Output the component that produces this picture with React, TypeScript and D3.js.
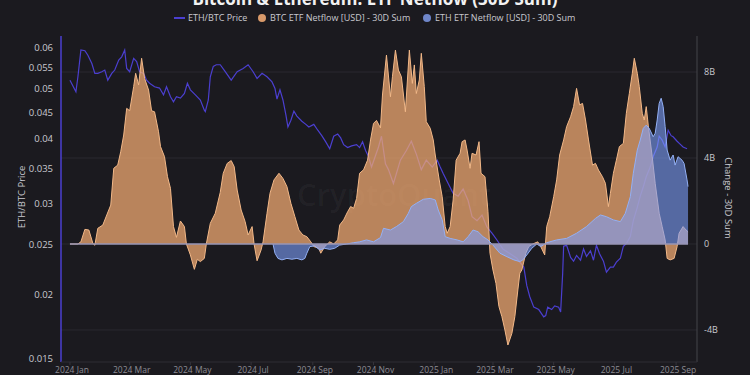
import { useEffect, useRef } from "react";
import * as d3 from "d3";

// 30D sum of BTC spot ETF netflow, billions USD
const btcFlow: [string, number][] = [
  ["2024-01-01", 0], ["2024-01-09", 0], ["2024-01-12", 0.1], ["2024-01-16", 0.68], ["2024-01-20", 0.65],
  ["2024-01-24", 0.03], ["2024-01-26", -0.06], ["2024-01-29", 0.73], ["2024-02-03", 0.88], ["2024-02-07", 1.35],
  ["2024-02-11", 1.81], ["2024-02-14", 3.52], ["2024-02-18", 3.67], ["2024-02-21", 4.29], ["2024-02-24", 5.07],
  ["2024-02-27", 6.31], ["2024-03-01", 6.2], ["2024-03-05", 7.32], ["2024-03-07", 7.94], ["2024-03-10", 7.4],
  ["2024-03-13", 8.64], ["2024-03-16", 7.7], ["2024-03-20", 7.16], ["2024-03-23", 6.2], ["2024-03-26", 6.15],
  ["2024-03-30", 5.22], ["2024-04-01", 4.53], ["2024-04-05", 4.06], ["2024-04-08", 3.13], ["2024-04-11", 2.59],
  ["2024-04-14", 0.81], ["2024-04-17", 0.31], ["2024-04-21", 1.07], ["2024-04-25", 0.81], ["2024-04-27", 0],
  ["2024-05-01", -0.51], ["2024-05-05", -1.18], ["2024-05-08", -0.71], ["2024-05-11", -0.82], ["2024-05-15", -0.67],
  ["2024-05-17", 0], ["2024-05-21", 0.96], ["2024-05-26", 1.43], ["2024-05-31", 2.4], ["2024-06-03", 3.29],
  ["2024-06-07", 3.75], ["2024-06-11", 3.88], ["2024-06-14", 3.6], ["2024-06-17", 2.51], ["2024-06-21", 1.58],
  ["2024-06-25", 1.04], ["2024-06-28", 0.42], ["2024-07-02", 0.81], ["2024-07-04", 0], ["2024-07-07", -0.78],
  ["2024-07-11", -0.28], ["2024-07-13", 0.1], ["2024-07-17", 1.43], ["2024-07-20", 2.36], ["2024-07-24", 2.98],
  ["2024-07-29", 3.29], ["2024-08-02", 3.05], ["2024-08-06", 2.67], ["2024-08-10", 1.89], ["2024-08-14", 1.27],
  ["2024-08-18", 0.65], ["2024-08-22", 0.42], ["2024-08-26", 0.34], ["2024-08-30", 0.1], ["2024-09-02", -0.12],
  ["2024-09-07", -0.2], ["2024-09-09", -0.43], ["2024-09-13", -0.12], ["2024-09-18", 0.1], ["2024-09-22", 0],
  ["2024-09-26", 0.19], ["2024-09-28", 0.88], ["2024-10-02", 1.12], ["2024-10-06", 1.5], ["2024-10-09", 1.74],
  ["2024-10-12", 1.66], ["2024-10-15", 2.12], ["2024-10-18", 3.29], ["2024-10-22", 3.45], ["2024-10-26", 3.9],
  ["2024-10-29", 4.84], ["2024-11-01", 5.61], ["2024-11-04", 5.75], ["2024-11-08", 5.4], ["2024-11-10", 6.93],
  ["2024-11-14", 8.79], ["2024-11-18", 6.85], ["2024-11-20", 7.78], ["2024-11-23", 9.02], ["2024-11-26", 8.09],
  ["2024-11-29", 7.78], ["2024-12-03", 6.15], ["2024-12-07", 9.02], ["2024-12-10", 7.47], ["2024-12-12", 8.33],
  ["2024-12-14", 7.0], ["2024-12-17", 7.63], ["2024-12-19", 8.87], ["2024-12-22", 7.32], ["2024-12-24", 5.69],
  ["2024-12-28", 5.38], ["2024-12-31", 4.84], ["2025-01-02", 4.14], ["2025-01-06", 2.98], ["2025-01-09", 2.2],
  ["2025-01-12", 0.81], ["2025-01-14", 0.5], ["2025-01-17", 0.81], ["2025-01-20", 2.05], ["2025-01-23", 3.9],
  ["2025-01-27", 4.22], ["2025-01-29", 4.76], ["2025-02-01", 4.84], ["2025-02-03", 4.37], ["2025-02-06", 3.52],
  ["2025-02-08", 4.22], ["2025-02-12", 4.14], ["2025-02-15", 4.76], ["2025-02-17", 3.29], ["2025-02-21", 3.13],
  ["2025-02-24", 1.5], ["2025-02-26", -0.43], ["2025-03-01", -1.21], ["2025-03-04", -1.83], ["2025-03-07", -2.91],
  ["2025-03-10", -3.38], ["2025-03-13", -4.0], ["2025-03-16", -4.7], ["2025-03-20", -4.16], ["2025-03-23", -3.38],
  ["2025-03-26", -2.14], ["2025-03-28", -1.36], ["2025-03-30", -1.21], ["2025-04-03", -0.43], ["2025-04-06", -0.12],
  ["2025-04-10", 0], ["2025-04-15", 0.1], ["2025-04-18", -0.12], ["2025-04-22", -0.51], ["2025-04-24", 0.81],
  ["2025-04-27", 1.27], ["2025-05-01", 2.2], ["2025-05-04", 2.98], ["2025-05-07", 4.14], ["2025-05-11", 4.84],
  ["2025-05-14", 5.46], ["2025-05-18", 5.92], ["2025-05-21", 6.39], ["2025-05-24", 7.24], ["2025-05-27", 6.47],
  ["2025-05-30", 6.54], ["2025-06-02", 5.77], ["2025-06-05", 4.84], ["2025-06-09", 3.67], ["2025-06-12", 3.75],
  ["2025-06-15", 3.44], ["2025-06-19", 3.13], ["2025-06-22", 2.82], ["2025-06-25", 1.74], ["2025-06-27", 2.36],
  ["2025-06-30", 3.29], ["2025-07-03", 3.9], ["2025-07-06", 4.53], ["2025-07-10", 4.68], ["2025-07-13", 6.08],
  ["2025-07-16", 7.0], ["2025-07-19", 7.94], ["2025-07-21", 8.64], ["2025-07-24", 7.94], ["2025-07-26", 7.32],
  ["2025-07-29", 6.08], ["2025-07-31", 5.77], ["2025-08-02", 6.39], ["2025-08-04", 5.53], ["2025-08-08", 4.06],
  ["2025-08-11", 2.82], ["2025-08-15", 1.43], ["2025-08-18", 0.81], ["2025-08-21", 0.19], ["2025-08-23", -0.67],
  ["2025-08-26", -0.74], ["2025-08-30", -0.67], ["2025-09-02", -0.12], ["2025-09-04", 0.5], ["2025-09-08", 0.81],
  ["2025-09-11", 0.65], ["2025-09-13", 0.57],
];

// 30D sum of ETH spot ETF netflow, billions USD
const ethFlow: [string, number][] = [
  ["2024-07-23", 0], ["2024-07-25", -0.43], ["2024-07-28", -0.67], ["2024-08-01", -0.74], ["2024-08-06", -0.67],
  ["2024-08-11", -0.71], ["2024-08-16", -0.67], ["2024-08-21", -0.74], ["2024-08-24", -0.67], ["2024-08-26", -0.43],
  ["2024-08-29", -0.12], ["2024-09-03", -0.09], ["2024-09-08", -0.28], ["2024-09-13", -0.2], ["2024-09-18", -0.25],
  ["2024-09-23", -0.2], ["2024-09-28", -0.05], ["2024-10-05", 0], ["2024-10-12", 0.06], ["2024-10-18", 0.1],
  ["2024-10-25", 0.19], ["2024-11-01", 0.1], ["2024-11-08", 0.3], ["2024-11-11", 0.73], ["2024-11-18", 0.65],
  ["2024-11-24", 0.81], ["2024-12-01", 1.04], ["2024-12-06", 1.43], ["2024-12-09", 1.74], ["2024-12-14", 1.89],
  ["2024-12-21", 2.08], ["2024-12-28", 2.12], ["2025-01-02", 2.05], ["2025-01-05", 1.58], ["2025-01-09", 1.12],
  ["2025-01-12", 0.34], ["2025-01-17", 0.26], ["2025-01-24", 0.19], ["2025-01-30", 0.1], ["2025-02-04", 0.34],
  ["2025-02-09", 0.65], ["2025-02-14", 0.57], ["2025-02-19", 0.34], ["2025-02-24", 0.19], ["2025-03-01", -0.05],
  ["2025-03-08", -0.43], ["2025-03-15", -0.59], ["2025-03-22", -0.74], ["2025-03-28", -0.82], ["2025-03-31", -0.74],
  ["2025-04-04", -0.51], ["2025-04-09", -0.2], ["2025-04-14", 0], ["2025-04-18", -0.12], ["2025-04-24", 0.06],
  ["2025-05-04", 0.19], ["2025-05-14", 0.26], ["2025-05-24", 0.5], ["2025-06-03", 0.81], ["2025-06-12", 1.19],
  ["2025-06-17", 1.35], ["2025-06-23", 1.27], ["2025-06-30", 1.12], ["2025-07-07", 1.04], ["2025-07-12", 1.43],
  ["2025-07-17", 2.2], ["2025-07-20", 3.29], ["2025-07-24", 4.37], ["2025-07-27", 4.84], ["2025-07-30", 5.38],
  ["2025-08-02", 5.53], ["2025-08-05", 5.38], ["2025-08-09", 4.99], ["2025-08-11", 5.15], ["2025-08-13", 5.77],
  ["2025-08-15", 6.54], ["2025-08-17", 6.78], ["2025-08-19", 6.39], ["2025-08-21", 5.46], ["2025-08-23", 4.37],
  ["2025-08-26", 3.9], ["2025-08-29", 4.14], ["2025-08-31", 3.67], ["2025-09-03", 4.06], ["2025-09-07", 3.9],
  ["2025-09-09", 3.75], ["2025-09-12", 2.98], ["2025-09-13", 2.67],
];

// ETH/BTC price
const ethBtcPrice: [string, number][] = [
  ["2024-01-01", 0.052], ["2024-01-07", 0.0494], ["2024-01-09", 0.0528], ["2024-01-12", 0.0595], ["2024-01-16", 0.0593],
  ["2024-01-19", 0.0581], ["2024-01-23", 0.056], ["2024-01-26", 0.0536], ["2024-01-29", 0.0536], ["2024-02-02", 0.054],
  ["2024-02-05", 0.0544], ["2024-02-08", 0.052], ["2024-02-12", 0.0536], ["2024-02-15", 0.0544], ["2024-02-19", 0.0569],
  ["2024-02-22", 0.0577], ["2024-02-25", 0.0595], ["2024-02-27", 0.0548], ["2024-03-01", 0.054], ["2024-03-05", 0.0573],
  ["2024-03-08", 0.0565], ["2024-03-11", 0.054], ["2024-03-15", 0.0536], ["2024-03-18", 0.052], ["2024-03-21", 0.0513],
  ["2024-03-26", 0.0505], ["2024-03-31", 0.0502], ["2024-04-04", 0.0487], ["2024-04-07", 0.0505], ["2024-04-11", 0.0483],
  ["2024-04-14", 0.0472], ["2024-04-17", 0.0483], ["2024-04-21", 0.048], ["2024-04-25", 0.049], ["2024-04-28", 0.0513],
  ["2024-05-01", 0.0498], ["2024-05-06", 0.0487], ["2024-05-11", 0.0476], ["2024-05-15", 0.0455], ["2024-05-16", 0.0452],
  ["2024-05-19", 0.0476], ["2024-05-21", 0.0528], ["2024-05-24", 0.0553], ["2024-05-27", 0.0557], ["2024-05-31", 0.0557],
  ["2024-06-05", 0.054], ["2024-06-11", 0.052], ["2024-06-17", 0.054], ["2024-06-23", 0.0548], ["2024-06-28", 0.0557],
  ["2024-07-03", 0.054], ["2024-07-07", 0.0524], ["2024-07-12", 0.0536], ["2024-07-17", 0.0528], ["2024-07-22", 0.0516],
  ["2024-07-25", 0.0501], ["2024-07-27", 0.0478], ["2024-07-30", 0.0498], ["2024-08-02", 0.0476], ["2024-08-05", 0.0445],
  ["2024-08-07", 0.0422], ["2024-08-10", 0.0435], ["2024-08-13", 0.0453], ["2024-08-16", 0.0443], ["2024-08-21", 0.0433],
  ["2024-08-25", 0.0427], ["2024-08-28", 0.0422], ["2024-09-02", 0.0427], ["2024-09-06", 0.0416], ["2024-09-10", 0.0406],
  ["2024-09-14", 0.0395], ["2024-09-18", 0.0383], ["2024-09-22", 0.0405], ["2024-09-26", 0.0409], ["2024-09-29", 0.0402],
  ["2024-10-02", 0.039], ["2024-10-06", 0.0385], ["2024-10-10", 0.0388], ["2024-10-15", 0.039], ["2024-10-18", 0.0385],
  ["2024-10-21", 0.0395], ["2024-10-24", 0.038], ["2024-10-27", 0.037], ["2024-10-30", 0.0353], ["2024-11-06", 0.0386],
  ["2024-11-09", 0.0405], ["2024-11-13", 0.0358], ["2024-11-16", 0.0349], ["2024-11-21", 0.0328], ["2024-11-28", 0.0364],
  ["2024-12-04", 0.038], ["2024-12-09", 0.0396], ["2024-12-14", 0.0374], ["2024-12-19", 0.0349], ["2024-12-24", 0.0364],
  ["2024-12-30", 0.0353], ["2025-01-04", 0.0364], ["2025-01-07", 0.0353], ["2025-01-10", 0.0343], ["2025-01-15", 0.0328],
  ["2025-01-20", 0.0314], ["2025-01-25", 0.031], ["2025-01-30", 0.032], ["2025-02-04", 0.0304], ["2025-02-08", 0.0283],
  ["2025-02-13", 0.0278], ["2025-02-18", 0.0285], ["2025-02-23", 0.027], ["2025-02-28", 0.0263], ["2025-03-05", 0.0255],
  ["2025-03-11", 0.0245], ["2025-03-18", 0.024], ["2025-03-25", 0.0235], ["2025-04-01", 0.0226], ["2025-04-04", 0.0208],
  ["2025-04-07", 0.0198], ["2025-04-11", 0.0189], ["2025-04-16", 0.0187], ["2025-04-21", 0.0181], ["2025-04-23", 0.0182],
  ["2025-04-25", 0.0189], ["2025-04-29", 0.0187], ["2025-05-02", 0.019], ["2025-05-06", 0.0189], ["2025-05-08", 0.0185],
  ["2025-05-10", 0.0219], ["2025-05-11", 0.0248], ["2025-05-14", 0.0249], ["2025-05-18", 0.0236], ["2025-05-21", 0.0232],
  ["2025-05-24", 0.0238], ["2025-05-28", 0.0233], ["2025-05-31", 0.0245], ["2025-06-03", 0.0237], ["2025-06-07", 0.0243],
  ["2025-06-10", 0.0233], ["2025-06-13", 0.0249], ["2025-06-16", 0.024], ["2025-06-20", 0.0232], ["2025-06-23", 0.0221],
  ["2025-06-27", 0.0226], ["2025-06-30", 0.0226], ["2025-07-03", 0.0231], ["2025-07-07", 0.0235], ["2025-07-10", 0.0248],
  ["2025-07-13", 0.0251], ["2025-07-17", 0.0259], ["2025-07-20", 0.0278], ["2025-07-24", 0.0295], ["2025-07-27", 0.031],
  ["2025-07-30", 0.0323], ["2025-08-02", 0.0338], ["2025-08-06", 0.0353], ["2025-08-09", 0.037], ["2025-08-13", 0.0386],
  ["2025-08-15", 0.0405], ["2025-08-18", 0.0398], ["2025-08-21", 0.0386], ["2025-08-24", 0.0416], ["2025-08-27", 0.0406],
  ["2025-08-29", 0.0404], ["2025-09-02", 0.0396], ["2025-09-05", 0.0391], ["2025-09-08", 0.0386], ["2025-09-12", 0.0383],
];

const priceTicks = [0.015, 0.02, 0.025, 0.03, 0.035, 0.04, 0.045, 0.05, 0.055, 0.06];
const flowTicks = [-4, 0, 4, 8];
const monthTicks = [
  "2024-01-01", "2024-03-01", "2024-05-01", "2024-07-01", "2024-09-01", "2024-11-01",
  "2025-01-01", "2025-03-01", "2025-05-01", "2025-07-01", "2025-09-01",
];

const TITLE = "Bitcoin & Ethereum: ETF Netflow (30D Sum)";
const FONT = "'Open Sans', 'Noto Sans', sans-serif";
const PRICE_COLOR = "#4b3fd0";

const App = () => {
  const svgRef = useRef<SVGSVGElement>(null);

  useEffect(() => {
    const width = 750;
    const height = 375;
    const margin = { top: 40, right: 53, bottom: 13, left: 61 };
    const parse = d3.utcParse("%Y-%m-%d");

    const svg = d3.select(svgRef.current);
    svg.selectAll("*").remove();
    svg.attr("width", width).attr("height", height);

    const x = d3
      .scaleUtc()
      .domain([parse("2023-12-23")!, parse("2025-09-22")!])
      .range([margin.left, width - margin.right]);
    const yFlow = d3.scaleLinear().domain([-5.49, 9.49]).range([height - margin.bottom, margin.top]);
    const yPrice = d3.scaleLog().domain([0.0148, 0.0622]).range([height - margin.bottom, margin.top]);

    svg.append("rect").attr("width", width).attr("height", height).attr("fill", "#1b1a1f");

    const defs = svg.append("defs");
    defs
      .append("clipPath")
      .attr("id", "plot-clip")
      .append("rect")
      .attr("x", margin.left)
      .attr("y", margin.top)
      .attr("width", width - margin.left - margin.right)
      .attr("height", height - margin.top - margin.bottom);

    // Gridlines
    svg
      .append("g")
      .selectAll("line")
      .data(flowTicks)
      .join("line")
      .attr("x1", margin.left)
      .attr("x2", width - margin.right)
      .attr("y1", (d) => yFlow(d))
      .attr("y2", (d) => yFlow(d))
      .attr("stroke", "#2a2930")
      .attr("stroke-width", 1);

    // Watermark
    svg
      .append("text")
      .attr("x", 297)
      .attr("y", 206)
      .attr("font-family", FONT)
      .attr("font-size", 31)
      .attr("font-weight", 600)
      .attr("fill", "rgba(255,255,255,0.04)")
      .text("CryptoQuant");

    const plot = svg.append("g").attr("clip-path", "url(#plot-clip)");

    // Price line (behind the areas)
    const priceData = ethBtcPrice.map(([d, v]) => ({ date: parse(d)!, v }));
    plot
      .append("path")
      .datum(priceData)
      .attr("fill", "none")
      .attr("stroke", PRICE_COLOR)
      .attr("stroke-width", 1.2)
      .attr("d", d3.line<{ date: Date; v: number }>().x((d) => x(d.date)).y((d) => yPrice(d.v)));

    const drawArea = (data: [string, number][], fill: string, opacity: number, stroke: string) => {
      const pts = data.map(([d, v]) => ({ date: parse(d)!, v }));
      plot
        .append("path")
        .datum(pts)
        .attr("fill", fill)
        .attr("fill-opacity", opacity)
        .attr(
          "d",
          d3.area<{ date: Date; v: number }>().x((d) => x(d.date)).y0(yFlow(0)).y1((d) => yFlow(d.v))
        );
      plot
        .append("path")
        .datum(pts)
        .attr("fill", "none")
        .attr("stroke", stroke)
        .attr("stroke-width", 1)
        .attr("d", d3.line<{ date: Date; v: number }>().x((d) => x(d.date)).y((d) => yFlow(d.v)));
    };

    drawArea(btcFlow, "#efa872", 0.75, "#f2b888");
    drawArea(ethFlow, "#7d9ffa", 0.6, "#93b0f5");

    // zero line across the data range
    plot
      .append("line")
      .attr("x1", x(parse(btcFlow[0][0])!))
      .attr("x2", x(parse(btcFlow[btcFlow.length - 1][0])!))
      .attr("y1", yFlow(0))
      .attr("y2", yFlow(0))
      .attr("stroke", "#9794b4")
      .attr("stroke-width", 1.5);

    // Axis lines
    svg
      .append("line")
      .attr("x1", margin.left)
      .attr("x2", margin.left)
      .attr("y1", margin.top - 4)
      .attr("y2", height - margin.bottom)
      .attr("stroke", PRICE_COLOR)
      .attr("stroke-width", 1.5);
    svg
      .append("line")
      .attr("x1", width - margin.right)
      .attr("x2", width - margin.right)
      .attr("y1", margin.top - 4)
      .attr("y2", height - margin.bottom)
      .attr("stroke", "#45444b")
      .attr("stroke-width", 1);
    svg
      .append("line")
      .attr("x1", margin.left)
      .attr("x2", width - margin.right)
      .attr("y1", height - margin.bottom)
      .attr("y2", height - margin.bottom)
      .attr("stroke", "#2e2d34");

    // Left ticks
    svg
      .append("g")
      .selectAll("text")
      .data(priceTicks)
      .join("text")
      .attr("x", 53)
      .attr("y", (d) => yPrice(d))
      .attr("dy", "0.35em")
      .attr("text-anchor", "end")
      .attr("font-family", FONT)
      .attr("font-size", 9.5)
      .attr("fill", "#c9c9cf")
      .text((d) => String(d));

    // Right ticks
    svg
      .append("g")
      .selectAll("text")
      .data(flowTicks)
      .join("text")
      .attr("x", 704)
      .attr("y", (d) => yFlow(d))
      .attr("dy", "0.35em")
      .attr("font-family", FONT)
      .attr("font-size", 9)
      .attr("fill", "#c9c9cf")
      .text((d) => (d === 0 ? "0" : `${d}B`));

    // Bottom ticks
    const fmt = d3.utcFormat("%Y %b");
    const bottom = svg.append("g");
    bottom
      .selectAll("line")
      .data(monthTicks)
      .join("line")
      .attr("x1", (d) => x(parse(d)!))
      .attr("x2", (d) => x(parse(d)!))
      .attr("y1", height - margin.bottom)
      .attr("y2", height - margin.bottom + 3)
      .attr("stroke", "#34333a");
    bottom
      .selectAll("text")
      .data(monthTicks)
      .join("text")
      .attr("x", (d) => x(parse(d)!) + 2)
      .attr("y", 372.5)
      .attr("text-anchor", "middle")
      .attr("font-family", FONT)
      .attr("font-size", 8.5)
      .attr("fill", "#8d8c94")
      .text((d) => fmt(parse(d)!));

    // Axis titles
    svg
      .append("text")
      .attr("transform", "translate(25,197) rotate(-90)")
      .attr("text-anchor", "middle")
      .attr("font-family", FONT)
      .attr("font-size", 9.5)
      .attr("fill", "#c9c9cf")
      .text("ETH/BTC Price");
    svg
      .append("text")
      .attr("transform", "translate(725,198) rotate(90)")
      .attr("text-anchor", "middle")
      .attr("font-family", FONT)
      .attr("font-size", 9.5)
      .attr("fill", "#c9c9cf")
      .text("Change - 30D Sum");

    // Title
    svg
      .append("text")
      .attr("x", 375)
      .attr("y", 5)
      .attr("text-anchor", "middle")
      .attr("font-family", FONT)
      .attr("font-size", 17)
      .attr("font-weight", 700)
      .attr("fill", "#f2f2f2")
      .text(TITLE);

    // Legend
    const legend = svg.append("g").attr("font-family", FONT).attr("font-size", 9).attr("fill", "#c9c9cf");
    legend
      .append("line")
      .attr("x1", 174)
      .attr("x2", 185)
      .attr("y1", 18)
      .attr("y2", 18)
      .attr("stroke", PRICE_COLOR)
      .attr("stroke-width", 2);
    legend.append("text").attr("x", 188).attr("y", 18).attr("dy", "0.35em").text("ETH/BTC Price");
    legend.append("circle").attr("cx", 262).attr("cy", 18).attr("r", 4).attr("fill", "#d99a6a");
    legend.append("text").attr("x", 270).attr("y", 18).attr("dy", "0.35em").text("BTC ETF Netflow [USD] - 30D Sum");
    legend.append("circle").attr("cx", 427).attr("cy", 18).attr("r", 4).attr("fill", "#6f86c9");
    legend.append("text").attr("x", 435).attr("y", 18).attr("dy", "0.35em").text("ETH ETF Netflow [USD] - 30D Sum");
  }, []);

  return <svg ref={svgRef} style={{ position: "absolute", left: 0, top: 0, display: "block" }} />;
};

export default App;
